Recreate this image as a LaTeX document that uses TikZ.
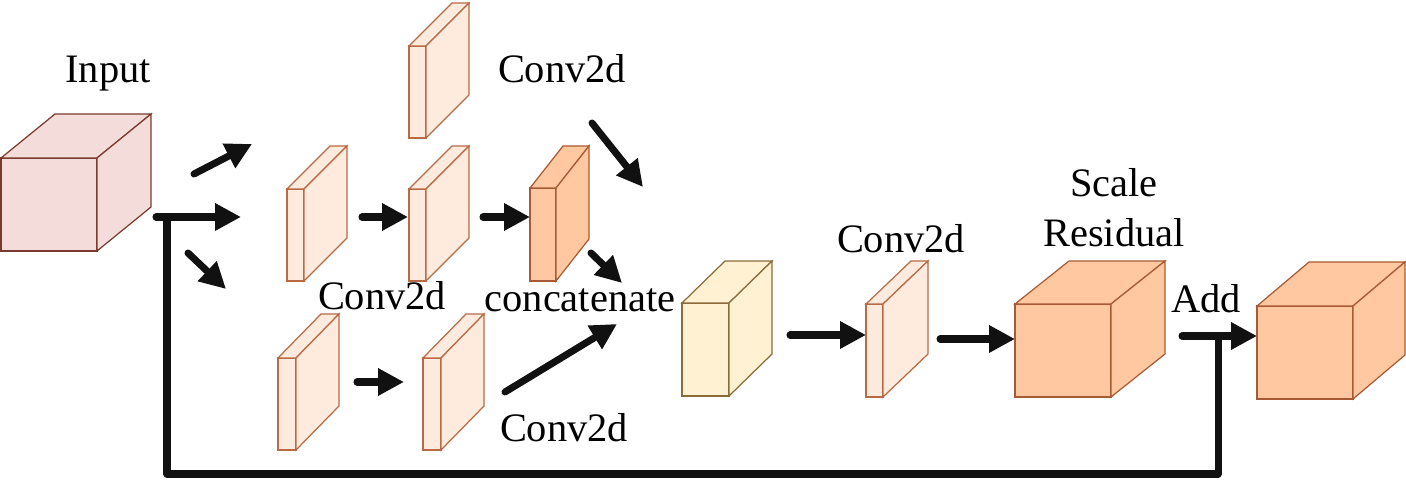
\documentclass[tikz,border=0pt]{standalone}
\usepackage{fontspec}
\setmainfont{Liberation Serif}
\usetikzlibrary{arrows.meta}
\definecolor{inputfill}{HTML}{F4DCDB}
\definecolor{inputline}{HTML}{7A3B2E}
\definecolor{slabfill}{HTML}{FFEBDD}
\definecolor{slabline}{HTML}{B86A45}
\definecolor{orangefill}{HTML}{FFC8A0}
\definecolor{orangeline}{HTML}{A85A35}
\definecolor{yellowfill}{HTML}{FFF1D2}
\definecolor{yellowline}{HTML}{8C6B3A}
\definecolor{linecol}{HTML}{111111}
% block: front top-left (x,y), (width:height:depth x:depth y)
\def\block[#1](#2,#3)(#4:#5:#6:#7){%
	\draw[#1] (#2,#3) rectangle ++(#4,#5);
	\draw[#1] (#2,#3) -- ++(#6,-#7) -- ++(#4,0) -- ++(-#6,#7) -- cycle;
	\draw[#1] (#2,#3) ++(#4,0) -- ++(#6,-#7) -- ++(0,#5) -- ++(-#6,#7) -- cycle;}
\tikzset{
	lbl/.style={anchor=base, inner sep=0pt, font=\fontsize{23}{28}\selectfont},
	arr/.style={line width=4pt, line cap=round, color=linecol, -{Triangle[length=0.52cm,width=0.52cm]}},
	skipline/.style={line width=4pt, line cap=round, line join=round, color=linecol},
	inputblock/.style={fill=inputfill, draw=inputline, line width=0.7pt},
	slab/.style={fill=slabfill, draw=slabline, line width=0.7pt},
	orangeblock/.style={fill=orangefill, draw=orangeline, line width=0.7pt},
	yellowblock/.style={fill=yellowfill, draw=yellowline, line width=0.7pt}
}
\begin{document}
\begin{tikzpicture}[x=0.02cm, y=-0.02cm]
			%%%%% START %%%%%
			\useasboundingbox (0,0) rectangle (1406,482);
			
			\block[inputblock](1,158)(96:93:54:44)
			\node[lbl] (input) at (108,83) {Input};
			
			\block[slab](409,46)(17:92:43:43)
			\block[slab](287,189)(17:92:43:43)
			\block[slab](409,189)(17:92:43:43)
			\block[orangeblock](530,188)(26:93:33:42)
			\block[slab](278,358)(18:92:43:44)
			\block[slab](423,358)(18:92:43:44)
			\block[yellowblock](682,303)(47:93:43:42)
			\block[slab](866,304)(17:93:45:43)
			\block[orangeblock](1015,304)(96:93:54:43)
			\block[orangeblock](1257,306)(96:93:52:44)
			
			\node[lbl] (convtop) at (562,83) {Conv2d};
			\node[lbl] (convmid) at (382,310) {Conv2d};
			\node[lbl] (concat) at (580,312) {concatenate};
			\node[lbl] (convbot) at (564,442) {Conv2d};
			\node[lbl] (convright) at (901,253) {Conv2d};
			\node[lbl] (scale) at (1114,197) {Scale};
			\node[lbl] (residual) at (1114,247) {Residual};
			\node[lbl] (add) at (1206,313) {Add};
			
			\coordinate (up1) at (194,174);   \coordinate (up2) at (252,144);
			\coordinate (mid1) at (156,217);  \coordinate (mid2) at (241,217);
			\coordinate (dn1) at (188,253);   \coordinate (dn2) at (226,289);
			\coordinate (s2a) at (362,217);   \coordinate (s2b) at (408,217);
			\coordinate (s3a) at (483,217);   \coordinate (s3b) at (530,217);
			\coordinate (tc1) at (592,123);   \coordinate (tc2) at (643,187);
			\coordinate (oc1) at (591,253);   \coordinate (oc2) at (622,283);
			\coordinate (s5a) at (357,382);   \coordinate (s5b) at (404,382);
			\coordinate (bc1) at (505,392);   \coordinate (bc2) at (617,324);
			\coordinate (ya) at (790,335);    \coordinate (yb) at (866,335);
			\coordinate (ca) at (940,339);    \coordinate (cb) at (1015,339);
			\coordinate (adda) at (1182,336); \coordinate (addb) at (1257,336);
			\coordinate (sk1) at (167,217);   \coordinate (sk2) at (167,474);
			\coordinate (sk3) at (1218,474);  \coordinate (sk4) at (1218,336);
			
			\draw[skipline] (sk1) -- (sk2) -- (sk3) -- (sk4);
			\draw[arr] (up1) -- (up2);
			\draw[arr] (mid1) -- (mid2);
			\draw[arr] (dn1) -- (dn2);
			\draw[arr] (s2a) -- (s2b);
			\draw[arr] (s3a) -- (s3b);
			\draw[arr] (tc1) -- (tc2);
			\draw[arr] (oc1) -- (oc2);
			\draw[arr] (s5a) -- (s5b);
			\draw[arr] (bc1) -- (bc2);
			\draw[arr] (ya) -- (yb);
			\draw[arr] (ca) -- (cb);
			\draw[arr] (adda) -- (addb);
			
			%%%%% END %%%%%
\end{tikzpicture}
\end{document}
